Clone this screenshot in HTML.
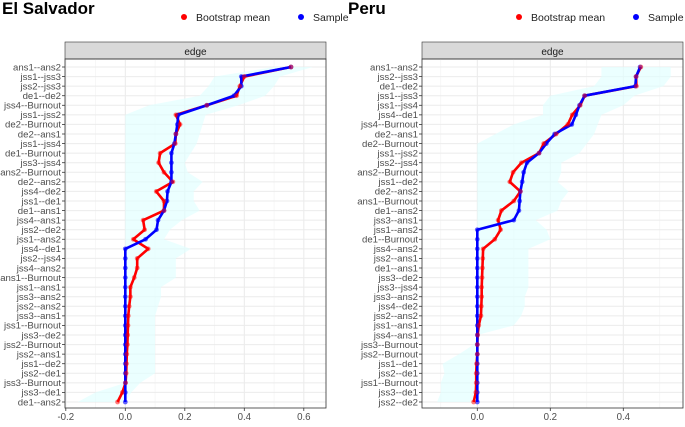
<!DOCTYPE html>
<html><head><meta charset="utf-8"><style>
body{margin:0;background:#fff;font-family:"Liberation Sans",sans-serif}
svg text{font-family:"Liberation Sans",sans-serif}
</style></head><body>
<svg id="chart" width="685" height="422" xmlns="http://www.w3.org/2000/svg"></svg>
<script>
const esLabels=["ans1--ans2","jss1--jss3","jss2--jss3","de1--de2","jss4--Burnout","jss1--jss2","de2--Burnout","de2--ans1","jss1--jss4","de1--Burnout","jss3--jss4","ans2--Burnout","de2--ans2","jss4--de2","jss1--de1","de1--ans1","jss4--ans1","jss2--de2","jss1--ans2","jss4--de1","jss2--jss4","jss4--ans2","ans1--Burnout","jss1--ans1","jss3--ans2","jss2--ans2","jss3--ans1","jss1--Burnout","jss3--de2","jss2--Burnout","jss2--ans1","jss1--de2","jss2--de1","jss3--Burnout","jss3--de1","de1--ans2"];
const esSample=[0.557,0.39,0.39,0.365,0.274,0.178,0.175,0.17,0.165,0.155,0.155,0.155,0.155,0.142,0.14,0.13,0.11,0.105,0.068,0,0,0,0,0,0,0,0,0,0,0,0,0,0,0,0,0];
const esMean=[0.557,0.40,0.385,0.374,0.274,0.17,0.184,0.17,0.168,0.117,0.112,0.13,0.16,0.104,0.13,0.13,0.06,0.065,0.027,0.077,0.04,0.04,0.03,0.017,0.017,0.013,0.01,0.009,0.008,0.007,0.005,0.004,0.003,0.001,-0.01,-0.026];
const esLo=[0.50,0.30,0.28,0.25,0.08,0,0,0,0,0,0,0,0,0,0,0,0,0,0,0,0,0,0,0,0,0,0,0,0,0,0,0,0,0,-0.10,-0.16];
const esHi=[0.63,0.52,0.50,0.47,0.38,0.27,0.26,0.25,0.24,0.22,0.20,0.21,0.26,0.23,0.23,0.25,0.19,0.15,0.13,0.22,0.17,0.17,0.17,0.12,0.12,0.11,0.10,0.10,0.10,0.10,0.10,0.10,0.10,0.05,0.02,0.0];
const peLabels=["ans1--ans2","jss2--jss3","de1--de2","jss1--jss3","jss1--jss4","jss4--de1","jss4--Burnout","de2--ans1","de2--Burnout","jss1--jss2","jss2--jss4","ans2--Burnout","jss1--de2","de2--ans2","ans1--Burnout","de1--ans2","jss3--ans1","jss1--ans2","de1--Burnout","jss4--ans2","jss2--ans1","de1--ans1","jss3--de2","jss3--jss4","jss3--ans2","jss4--de2","jss2--ans2","jss1--ans1","jss4--ans1","jss3--Burnout","jss2--Burnout","jss1--de1","jss2--de1","jss1--Burnout","jss3--de1","jss2--de2"];
const peSample=[0.446,0.435,0.433,0.294,0.28,0.27,0.259,0.212,0.189,0.169,0.136,0.127,0.123,0.118,0.116,0.114,0.10,0,0,0,0,0,0,0,0,0,0,0,0,0,0,0,0,0,0,0];
const peMean=[0.448,0.435,0.436,0.294,0.282,0.26,0.248,0.216,0.182,0.169,0.121,0.098,0.089,0.118,0.10,0.066,0.057,0.064,0.048,0.016,0.015,0.014,0.013,0.012,0.012,0.011,0.01,0.004,0.001,0,0,-0.002,-0.003,-0.003,-0.004,-0.01];
const peLo=[0.34,0.34,0.32,0.20,0.18,0.18,0.10,0.05,0,0,0,0,0,0,0,0,0,0,0,0,0,0,0,0,0,0,0,0,0,-0.01,-0.05,-0.095,-0.09,-0.10,-0.10,-0.11];
const peHi=[0.53,0.53,0.51,0.43,0.40,0.34,0.33,0.32,0.30,0.28,0.23,0.23,0.22,0.25,0.23,0.22,0.16,0.19,0.20,0.14,0.14,0.14,0.14,0.14,0.13,0.13,0.12,0.10,0.0,0.0,0.0,0.0,0.0,0.0,0.0,0.0];
const esTicks=[-0.2,0.0,0.2,0.4,0.6];
const peTicks=[0.0,0.2,0.4];

const svg=document.getElementById('chart');
const NS='http://www.w3.org/2000/svg';
function mk(tag,attrs,parent){const e=document.createElementNS(NS,tag);for(const k in attrs)e.setAttribute(k,attrs[k]);(parent||svg).appendChild(e);return e;}

function panel(p){
  const g=mk('g',{});
  
  
  const L=p.left,R=p.right,T=59,B=408,y0=67,y1=402;
  const n=p.labels.length;
  const sx=v=>p.zx+(v)*p.k;
  const sy=i=>y0+i*(y1-y0)/(n-1);
  const t=mk('text',{x:p.tx,y:14,'font-size':17,'font-weight':'bold',fill:'#000'},g);t.textContent=p.title;
  
  const lg=mk('g',{},g);
  mk('circle',{cx:p.lx,cy:17,r:3,fill:'#f00'},lg);
  let lt=mk('text',{x:p.lx+12,y:21,'font-size':10.5,fill:'#222'},lg);lt.textContent='Bootstrap mean';
  mk('circle',{cx:p.lx+117,cy:17,r:3,fill:'#00f'},lg);
  lt=mk('text',{x:p.lx+129,y:21,'font-size':10.5,fill:'#222'},lg);lt.textContent='Sample';
  const st=mk('rect',{x:L,y:42,width:R-L,height:T-42,fill:'#d9d9d9',stroke:'#333','stroke-width':0.6},g);
  
  const stt=mk('text',{x:(L+R)/2,y:55,'text-anchor':'middle','font-size':10,fill:'#1a1a1a'},g);stt.textContent='edge';
  for(let v=-0.3;v<=0.7;v+=0.1){const x=sx(Math.round(v*10)/10);if(x>L&&x<R)mk('line',{x1:x,x2:x,y1:T,y2:B,stroke:'#f2f2f2','stroke-width':0.6},g);}
  p.ticks.forEach(v=>{mk('line',{x1:sx(v),x2:sx(v),y1:T,y2:B,stroke:'#ebebeb','stroke-width':1},g);});
  for(let i=0;i<n;i++)mk('line',{x1:L,x2:R,y1:sy(i),y2:sy(i),stroke:'#ebebeb','stroke-width':1},g);
  let d='';for(let i=0;i<n;i++)d+=(i?'L':'M')+sx(p.hi[i])+' '+sy(i);
  for(let i=n-1;i>=0;i--)d+='L'+sx(p.lo[i])+' '+sy(i);
  const band=mk('path',{d:d+'Z',fill:'#e0ffff','fill-opacity':0.65},g);
  
  const line=(vals,col,name)=>{let s='';vals.forEach((v,i)=>s+=(i?'L':'M')+sx(v)+' '+sy(i));const e=mk('path',{d:s,fill:'none',stroke:col,'stroke-width':2.6,'stroke-linejoin':'round'},g);};
  line(p.mean,'#f00','bootstrap-mean-line');
  line(p.sample,'#00f','sample-line');
  p.sample.forEach((v,i)=>{const c=mk('circle',{cx:sx(v),cy:sy(i),r:2.4,fill:'#00f','fill-opacity':0.6},g);});
  p.mean.forEach((v,i)=>{const c=mk('circle',{cx:sx(v),cy:sy(i),r:2.4,fill:'#f00','fill-opacity':0.5},g);});
  mk('rect',{x:L,y:T,width:R-L,height:B-T,fill:'none',stroke:'#333','stroke-width':0.8},g);
  p.labels.forEach((lab,i)=>{mk('line',{x1:L-3,x2:L,y1:sy(i),y2:sy(i),stroke:'#333','stroke-width':0.8},g);const e=mk('text',{x:L-4,y:sy(i)+3.3,'text-anchor':'end','font-size':9.6,fill:'#4d4d4d'},g);e.textContent=lab;});
  p.ticks.forEach(v=>{mk('line',{x1:sx(v),x2:sx(v),y1:B,y2:B+3,stroke:'#333','stroke-width':0.8},g);const e=mk('text',{x:sx(v),y:B+12,'text-anchor':'middle','font-size':9.7,fill:'#4d4d4d'},g);e.textContent=v.toFixed(1);});
}
panel({name:'el-salvador-panel',title:'El Salvador',tx:2,lx:184,left:65,right:326,zx:125.3,k:297.5,labels:esLabels,sample:esSample,mean:esMean,lo:esLo,hi:esHi,ticks:esTicks});
panel({name:'peru-panel',title:'Peru',tx:348,lx:519,left:422,right:683,zx:477.3,k:365,labels:peLabels,sample:peSample,mean:peMean,lo:peLo,hi:peHi,ticks:peTicks});
</script>
</body></html>
